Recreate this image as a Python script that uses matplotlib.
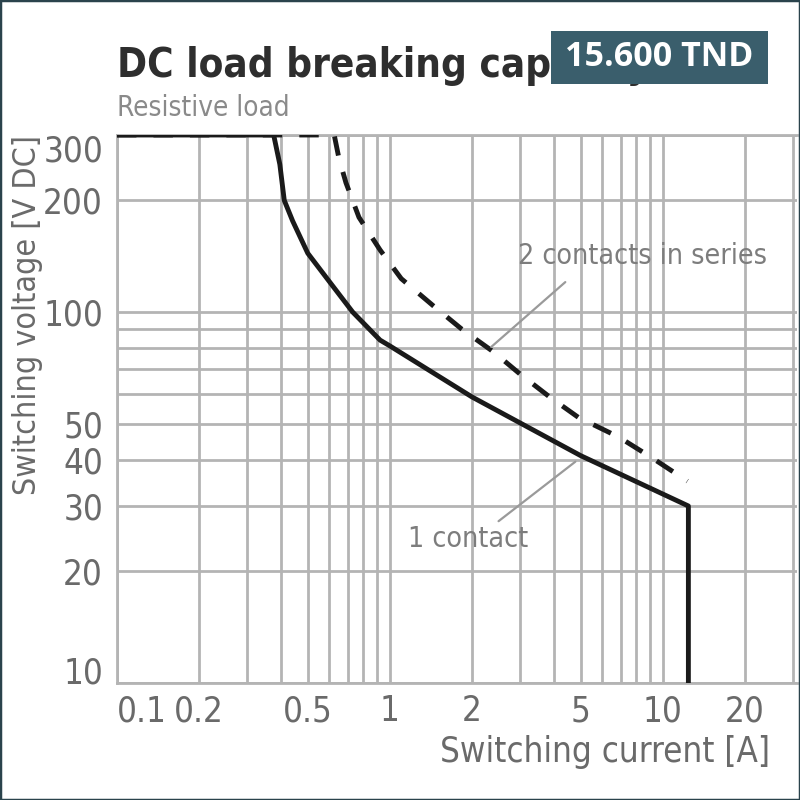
"""DC load breaking capacity chart (resistive load), log-log with price tag."""

import os

import matplotlib

matplotlib.use("Agg")
import matplotlib.pyplot as plt
from matplotlib import font_manager
from matplotlib.font_manager import FontProperties
from matplotlib.patches import Rectangle

# 1 contact: switching current [A] vs switching voltage [V DC]
one_current = [0.1, 0.375, 0.395, 0.41, 0.44, 0.5, 0.62, 0.73, 0.92, 1.0, 2.0, 5.0, 12.4, 12.4]
one_voltage = [300, 300, 250, 200, 176, 144, 117, 100, 84, 81, 59, 41, 30, 10]

# 2 contacts in series
two_current = [0.1, 0.625, 0.65, 0.69, 0.77, 0.92, 1.1, 1.44, 1.83, 2.4, 3.0, 3.85, 4.9, 6.9, 9.1, 12.3]
two_voltage = [300, 300, 260, 223, 180, 147, 123, 104, 90, 78, 68, 59, 52, 46, 40.5, 35]

x_grid = [0.2, 0.3, 0.4, 0.5, 0.6, 0.7, 0.8, 0.9, 1, 2, 3, 4, 5, 6, 7, 8, 9, 10, 20, 30]
x_labels = [0.1, 0.2, 0.5, 1, 2, 5, 10, 20]
y_grid = [20, 30, 40, 50, 60, 70, 80, 90, 100, 200, 300]
y_labels = [10, 20, 30, 40, 50, 100, 200, 300]

GRID = "#b4b4b4"
TEXT = "#6a6a6a"
LINE = "#1a1a1a"
NOTE = "#7d7d7d"


def _weight(entry):
    w = entry.weight
    if isinstance(w, str):
        w = font_manager.weight_dict.get(w, 400)
    return int(w)


def pick_narrow(weight):
    """Find an installed condensed / narrow sans font file."""
    best = None
    for entry in font_manager.fontManager.ttflist:
        key = (entry.name + " " + os.path.basename(entry.fname)).lower()
        if "mono" in key or "serif" in key or entry.style != "normal":
            continue
        if not ("narrow" in key or "condensed" in key or entry.stretch not in ("normal", 500)):
            continue
        if "semi" in key or "semicondensed" in key:
            continue
        score = abs(_weight(entry) - weight)
        if "liberation" in key:
            score -= 50
        if best is None or score < best[0]:
            best = (score, entry.fname)
    return best[1] if best else None


NARROW = pick_narrow(400)
NARROW_BOLD = pick_narrow(700)


def fp(size, bold=False):
    path = NARROW_BOLD if bold else NARROW
    if path:
        return FontProperties(fname=path, size=size)
    return FontProperties(family="DejaVu Sans", size=size * 0.8,
                          weight="bold" if bold else "normal")


fig = plt.figure(figsize=(8, 8), dpi=100)
fig.patch.set_facecolor("white")
ax = fig.add_axes([117 / 800, 117 / 800, 680 / 800, 548 / 800])

ax.set_xscale("log")
ax.set_yscale("log")
ax.set_xlim(0.1, 31)
ax.set_ylim(10, 300)

ax.set_xticks(x_grid, minor=True)
ax.set_yticks(y_grid, minor=True)
ax.set_xticks(x_labels)
ax.set_xticklabels([f"{v:g}" for v in x_labels])
ax.set_yticks(y_labels)
ax.set_yticklabels([f"{v:g}" for v in y_labels])
ax.xaxis.set_minor_formatter(plt.NullFormatter())
ax.yaxis.set_minor_formatter(plt.NullFormatter())
ax.tick_params(which="both", length=0, labelcolor=TEXT)
ax.tick_params(axis="x", pad=8)
ax.tick_params(axis="y", pad=10)
ax.grid(which="both", color=GRID, linewidth=2.0)
ax.set_axisbelow(True)
for spine in ax.spines.values():
    spine.set_color(GRID)
    spine.set_linewidth(2.0)
ax.spines["right"].set_visible(False)

for lab in ax.get_xticklabels() + ax.get_yticklabels():
    lab.set_fontproperties(fp(25))
ylab = ax.get_yticklabels()
ylab[-1].set_verticalalignment("top")
ylab[0].set_verticalalignment("baseline")
ax.get_xticklabels()[0].set_horizontalalignment("left")

ax.plot(two_current, two_voltage, color=LINE, linewidth=3.5, linestyle=(0, (4, 3.5)),
        zorder=3)
ax.plot(one_current, one_voltage, color=LINE, linewidth=3.5, zorder=4)

# curve labels with leader lines
ax.text(8.45, 142, "2 contacts in series", ha="center", va="center",
        fontproperties=fp(20.5), color=NOTE)
ax.annotate("", xy=(2.35, 80.5), xytext=(4.39, 120.4),
            arrowprops=dict(arrowstyle="-", color="#9a9a9a", linewidth=1.6,
                            shrinkA=0, shrinkB=0))
ax.text(1.94, 24.4, "1 contact", ha="center", va="center",
        fontproperties=fp(20.5), color=NOTE)
ax.annotate("", xy=(4.78, 39.5), xytext=(2.5, 27.3),
            arrowprops=dict(arrowstyle="-", color="#9a9a9a", linewidth=1.6,
                            shrinkA=0, shrinkB=0))

fig.text(117 / 800, 1 - 77 / 800, "DC load breaking capacity",
         fontproperties=fp(29, bold=True), color="#2e2e2e",
         va="baseline", ha="left")
fig.text(117 / 800, 1 - 116 / 800, "Resistive load", fontproperties=fp(20),
         color="#8a8a8a", va="baseline", ha="left")
fig.text(770 / 800, 1 - 752 / 800, "Switching current [A]", fontproperties=fp(25),
         color=TEXT, ha="right", va="center")
fig.text(28 / 800, 1 - 135 / 800, "Switching voltage [V DC]", fontproperties=fp(23),
         color=TEXT, ha="center", va="top", rotation=90)

# price tag
fig.patches.append(Rectangle((551 / 800, 1 - 84 / 800), 217 / 800, 53 / 800,
                             transform=fig.transFigure, facecolor="#3a5e6c",
                             edgecolor="none", zorder=10))
fig.text(659.5 / 800, 1 - 57.5 / 800, "15.600 TND", fontsize=24.5,
         fontweight="bold", color="white", ha="center", va="center",
         family=["Open Sans", "DejaVu Sans"], zorder=11)

# image border
fig.patches.append(Rectangle((0, 0), 1, 1, transform=fig.transFigure,
                             facecolor="none", edgecolor="#2a434c",
                             linewidth=2.5, zorder=12))

fig.savefig("out.png", dpi=100)
